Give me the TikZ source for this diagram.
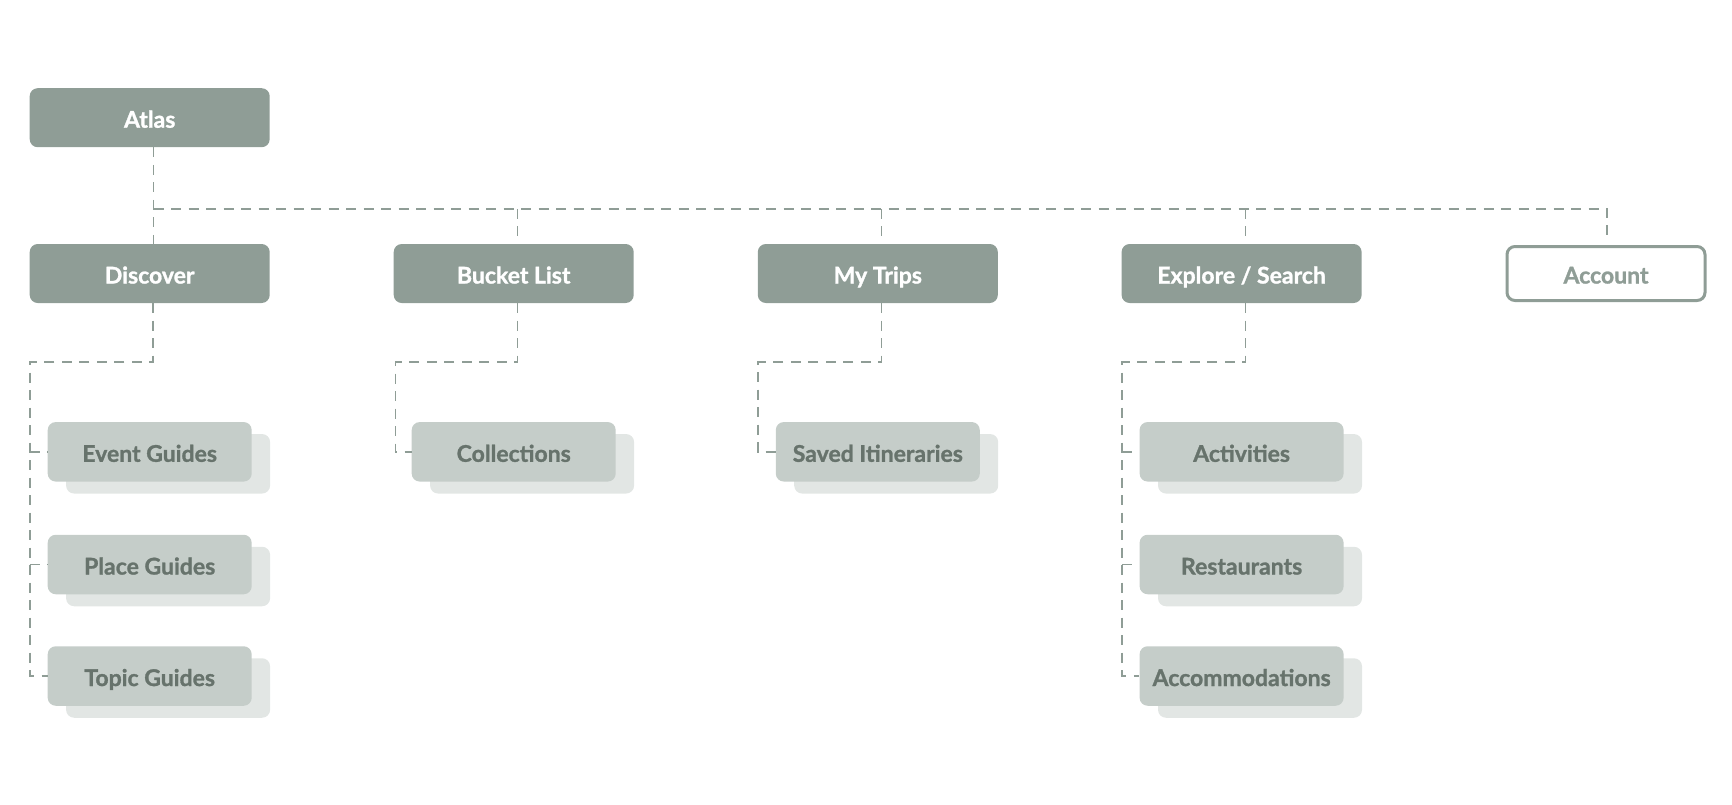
\documentclass[tikz,border=0pt]{standalone}
\usepackage{fontspec}
\setmainfont{Lato}[BoldFeatures={FakeBold=1.2}]
\definecolor{dark}{HTML}{8F9D96}
\definecolor{childfill}{HTML}{C5CDC9}
\definecolor{childtext}{HTML}{67736C}
\definecolor{shadowfill}{HTML}{E2E6E4}
\definecolor{linecol}{HTML}{8F9D96}
\begin{document}
\begin{tikzpicture}[x=1pt,y=-1pt,
  lbl/.style={font=\fontsize{23}{27}\selectfont\bfseries, text height=20pt, text depth=0pt},
  topbox/.style={lbl, rounded corners=8pt, fill=dark, text=white, minimum width=240pt, minimum height=59pt, inner sep=0pt},
  accbox/.style={lbl, rounded corners=8pt, fill=white, draw=dark, line width=3pt, text=dark, minimum width=198pt, minimum height=54pt, inner sep=0pt},
  childbox/.style={lbl, rounded corners=8pt, fill=childfill, text=childtext, minimum width=204pt, minimum height=59.5pt, inner sep=0pt},
  shadowbox/.style={rounded corners=8pt, fill=shadowfill, minimum width=204pt, minimum height=59.5pt, inner sep=0pt},
  link/.style={draw=linecol, line width=1.8pt, dash pattern=on 10pt off 7.5pt}
]
\useasboundingbox (0,0) rectangle (1732,804);

% ---- top level
\node[topbox] (atlas) at (149.7,117.7) {Atlas};
\node[topbox] (discover) at (149.7,273.5) {Discover};
\node[topbox] (bucket) at (513.7,273.5) {Bucket List};
\node[topbox] (trips) at (877.8,273.5) {My Trips};
\node[topbox] (explore) at (1241.6,273.5) {Explore / Search};
\node[accbox] (account) at (1606,273.5) {Account};

% ---- shadows
\foreach \cx/\nm in {149.7/d,513.7/b,877.8/t,1241.6/e}{
  \node[shadowbox] (\nm S1) at (\cx+18.4,463.8) {};
}
\foreach \cx/\nm in {149.7/d,1241.6/e}{
  \node[shadowbox] (\nm S2) at (\cx+18.4,576.5) {};
  \node[shadowbox] (\nm S3) at (\cx+18.4,688) {};
}

% ---- children
\node[childbox] (event) at (149.7,451.8) {Event Guides};
\node[childbox] (place) at (149.7,564.5) {Place Guides};
\node[childbox] (topic) at (149.7,676) {Topic Guides};
\node[childbox] (collections) at (513.7,451.8) {Collections};
\node[childbox] (saved) at (877.8,451.8) {Saved Itineraries};
\node[childbox] (activities) at (1241.6,451.8) {Activities};
\node[childbox] (restaurants) at (1241.6,564.5) {Restaurants};
\node[childbox] (accommodations) at (1241.6,676) {Accommodations};

% ---- bus coordinates
\coordinate (jD) at (153.5,208.8);
\coordinate (jB) at (517.5,208.8);
\coordinate (jT) at (881.5,208.8);
\coordinate (jE) at (1245.5,208.8);
\coordinate (jA) at (1607,208.8);
\coordinate (accEnd) at (1607,235);

\draw[link] (jD |- atlas.south) -- (jD |- discover.north);
\draw[link] (jD) -- (jA) -- (accEnd);
\draw[link] (jB) -- (jB |- bucket.north);
\draw[link] (jT) -- (jT |- trips.north);
\draw[link] (jE) -- (jE |- explore.north);

% ---- lower branches
\coordinate (kD) at (152.8,362.3);
\coordinate (lD) at (29.8,362.3);
\coordinate (kB) at (517.5,362.3);
\coordinate (lB) at (395.4,362.3);
\coordinate (kT) at (881.5,362.3);
\coordinate (lT) at (757.8,362.3);
\coordinate (kE) at (1245.5,362.3);
\coordinate (lE) at (1122.3,362.3);

\draw[link] (kD |- discover.south) -- (kD) -- (lD) -- (lD |- topic.west) -- (topic.west);
\draw[link] (lD |- event.west) -- (event.west);
\draw[link] (lD |- place.west) -- (place.west);

\draw[link] (kB |- bucket.south) -- (kB) -- (lB) -- (lB |- collections.west) -- (collections.west);
\draw[link] (kT |- trips.south) -- (kT) -- (lT) -- (lT |- saved.west) -- (saved.west);

\draw[link] (kE |- explore.south) -- (kE) -- (lE) -- (lE |- accommodations.west) -- (accommodations.west);
\draw[link] (lE |- activities.west) -- (activities.west);
\draw[link] (lE |- restaurants.west) -- (restaurants.west);
\end{tikzpicture}
\end{document}
